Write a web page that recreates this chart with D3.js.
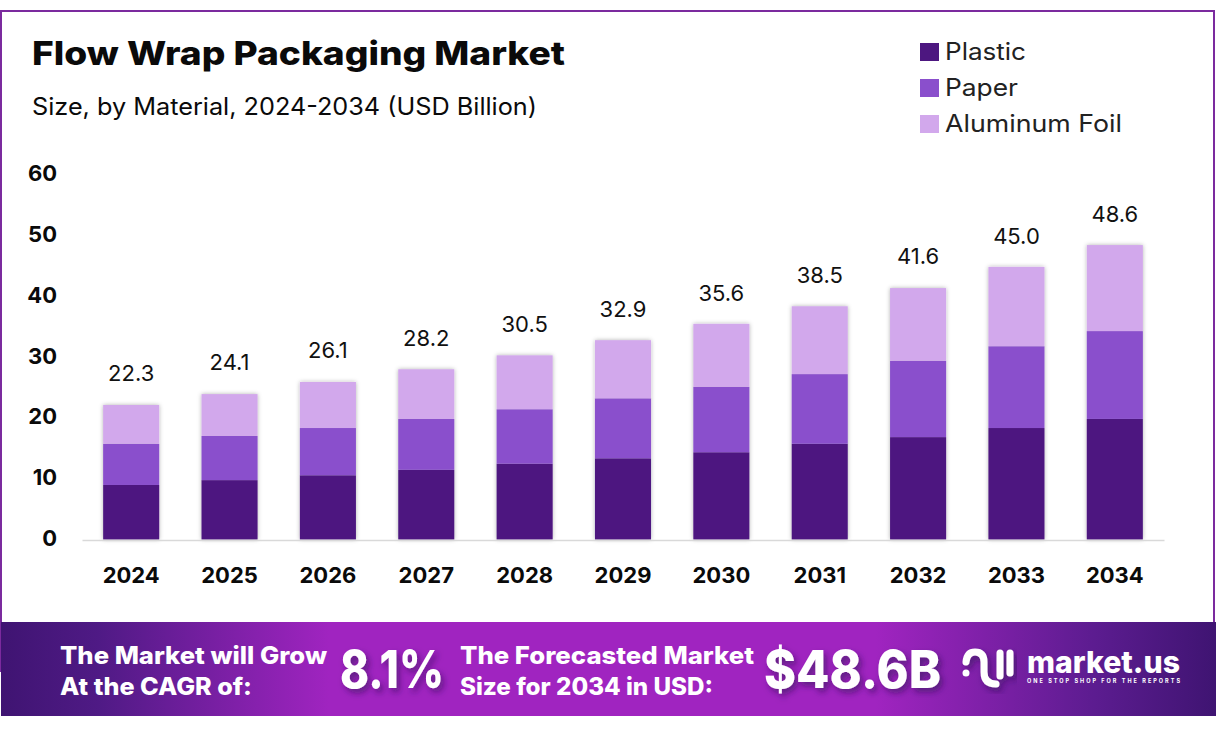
<!DOCTYPE html>
<html>
<head>
<meta charset="utf-8">
<script src="https://cdnjs.cloudflare.com/ajax/libs/d3/7.8.5/d3.min.js"></script>
<style>
  html, body { margin: 0; padding: 0; background: #fff; }
  svg { display: block; }
  text { font-family: Inter, "Noto Sans", sans-serif; }
</style>
</head>
<body>
<svg id="chart"></svg>
<script>
// chart data
const years = ["2024","2025","2026","2027","2028","2029","2030","2031","2032","2033","2034"];
const plastic = [9.0, 9.8, 10.6, 11.5, 12.5, 13.4, 14.4, 15.8, 16.9, 18.4, 19.9];
const paper = [6.8, 7.3, 7.8, 8.4, 9.0, 9.9, 10.8, 11.5, 12.6, 13.5, 14.5];
const foil = [6.4, 6.9, 7.6, 8.2, 8.9, 9.6, 10.4, 11.2, 12.0, 13.1, 14.2];
const totals = ["22.3","24.1","26.1","28.2","30.5","32.9","35.6","38.5","41.6","45.0","48.6"];
const materials = ["Plastic", "Paper", "Aluminum Foil"];
const legendWidths = [81, 73, 177];
const colors = ["#4d1780", "#8a4fcc", "#d2a8ec"];
const yTicks = [0, 10, 20, 30, 40, 50, 60];

const width = 1216, height = 735;
const svg = d3.select("#chart").attr("width", width).attr("height", height);
const defs = svg.append("defs");

// soft shadow for the bars
const barShadow = defs.append("filter").attr("id", "barShadow")
    .attr("x", "-15%").attr("y", "-5%").attr("width", "130%").attr("height", "110%");
barShadow.append("feDropShadow").attr("dx", 0).attr("dy", 0)
    .attr("stdDeviation", 2).attr("flood-color", "#000").attr("flood-opacity", 0.3);

// shadow for the big banner numbers
const textShadow = defs.append("filter").attr("id", "textShadow")
    .attr("x", "-10%").attr("y", "-20%").attr("width", "125%").attr("height", "150%");
textShadow.append("feDropShadow").attr("dx", 3).attr("dy", 4)
    .attr("stdDeviation", 3).attr("flood-color", "#2a0a50").attr("flood-opacity", 0.55);

// banner gradient
const grad = defs.append("linearGradient").attr("id", "bannerGrad");
[[0, "#3f1472"], [0.08, "#4f1a85"], [0.27, "#a024c0"], [0.72, "#a024c0"], [0.9, "#5c1c90"], [1, "#3f1472"]]
    .forEach(d => grad.append("stop").attr("offset", d[0]).attr("stop-color", d[1]));

// outer frame
svg.append("rect").attr("x", 1).attr("y", 11).attr("width", 1213).attr("height", 660)
    .attr("fill", "#fff").attr("stroke", "#7b2a9e").attr("stroke-width", 2);

// place a text and force it to the width it has in the reference
function label(x, y, str, size, weight, w, anchor) {
  const t = svg.append("text").attr("x", x).attr("y", y).text(str)
      .attr("font-size", size).attr("font-weight", weight).attr("fill", "#0a0a0a")
      .attr("text-anchor", anchor || "start");
  if (w) t.attr("textLength", w).attr("lengthAdjust", "spacingAndGlyphs");
  return t;
}

label(32, 65, "Flow Wrap Packaging Market", 33, 800, 533);
label(32, 115, "Size, by Material, 2024-2034 (USD Billion)", 24, 400, 505);

// scales
const x = d3.scaleBand().domain(years).range([82, 1164]).paddingInner(0.42).paddingOuter(0.21);
const y = d3.scaleLinear().domain([0, 60]).range([539.5, 176]);
// the printed tick labels sit a bit apart from the bar scale
const yLabels = d3.scaleLinear().domain([0, 60]).range([538.5, 173.5]);

// bars
const rows = years.map((yr, i) => ({ year: yr, Plastic: plastic[i], Paper: paper[i], "Aluminum Foil": foil[i] }));
const stacked = d3.stack().keys(materials)(rows);

svg.append("g").attr("class", "bars")
    .attr("filter", "url(#barShadow)")
  .selectAll("g").data(stacked).enter().append("g")
    .attr("fill", (d, i) => colors[i])
  .selectAll("rect").data(d => d).enter().append("rect")
    .attr("x", d => x(d.data.year) + 0.5)
    .attr("y", d => y(d[1]))
    .attr("width", x.bandwidth() - 1)
    .attr("height", d => y(d[0]) - y(d[1]));

// totals above the bars
svg.append("g").selectAll("text").data(years).enter().append("text")
    .attr("x", d => x(d) + x.bandwidth() / 2)
    .attr("y", (d, i) => y(+totals[i]) - 23)
    .attr("text-anchor", "middle")
    .attr("font-size", 22).attr("fill", "#111")
    .text((d, i) => totals[i]);

// x axis
const xAxis = svg.append("g").attr("transform", "translate(0,540)")
    .call(d3.axisBottom(x).tickSize(0).tickPadding(27));
xAxis.select(".domain").attr("stroke", "#d9d9d9").attr("stroke-width", 1.5);
xAxis.selectAll("text").attr("font-size", 22).attr("font-weight", 700).attr("fill", "#0a0a0a");

// y axis, labels only
const yAxis = svg.append("g").attr("transform", "translate(57,0)")
    .call(d3.axisLeft(yLabels).tickValues(yTicks).tickSize(0).tickPadding(0));
yAxis.select(".domain").remove();
yAxis.selectAll("text").attr("font-size", 22).attr("font-weight", 700).attr("fill", "#0a0a0a");

// legend
const legend = svg.append("g").selectAll("g").data(materials).enter().append("g")
    .attr("transform", (d, i) => `translate(920,${43 + i * 36})`);
legend.append("rect").attr("width", 19).attr("height", 18).attr("fill", (d, i) => colors[i]);
legend.append("text").attr("x", 25).attr("y", 17)
    .attr("font-size", 24).attr("fill", "#222")
    .attr("textLength", (d, i) => legendWidths[i]).attr("lengthAdjust", "spacingAndGlyphs")
    .text(d => d);

// banner
svg.append("rect").attr("x", 1).attr("y", 622).attr("width", 1215).attr("height", 94)
    .attr("fill", "url(#bannerGrad)");

function bannerText(x0, y0, str, size, w, shadow) {
  const t = label(x0, y0, str, size, 800, w).attr("fill", "#fff");
  if (shadow) t.attr("filter", "url(#textShadow)");
  return t;
}
bannerText(60, 664, "The Market will Grow", 24, 267);
bannerText(60, 695, "At the CAGR of:", 24, 192);
bannerText(340, 688, "8.1%", 52, 104, true);
bannerText(460, 664, "The Forecasted Market", 24, 294);
bannerText(460, 695, "Size for 2034 in USD:", 24, 253);
bannerText(764, 688, "$48.6B", 52, 177, true);

// market.us logo
const logo = svg.append("g").attr("fill", "none").attr("stroke", "#fff")
    .attr("stroke-width", 7).attr("stroke-linecap", "round").attr("filter", "url(#textShadow)");
logo.append("path").attr("d", "M966 662 Q967 652 975 652 Q984 652 984 662 L984 672 Q984 684 996 684");
logo.append("path").attr("d", "M1000 653 L1000 676");
logo.append("path").attr("d", "M1010 653 L1010 673");
svg.append("circle").attr("cx", 966).attr("cy", 673).attr("r", 3.5).attr("fill", "#fff");
bannerText(1027, 673, "market.us", 30, 153);
svg.append("text").attr("x", 1027).attr("y", 683).text("ONE STOP SHOP FOR THE REPORTS")
    .attr("font-size", 5.5).attr("font-weight", 700).attr("fill", "#fff")
    .attr("textLength", 153).attr("lengthAdjust", "spacing");
</script>
</body>
</html>
